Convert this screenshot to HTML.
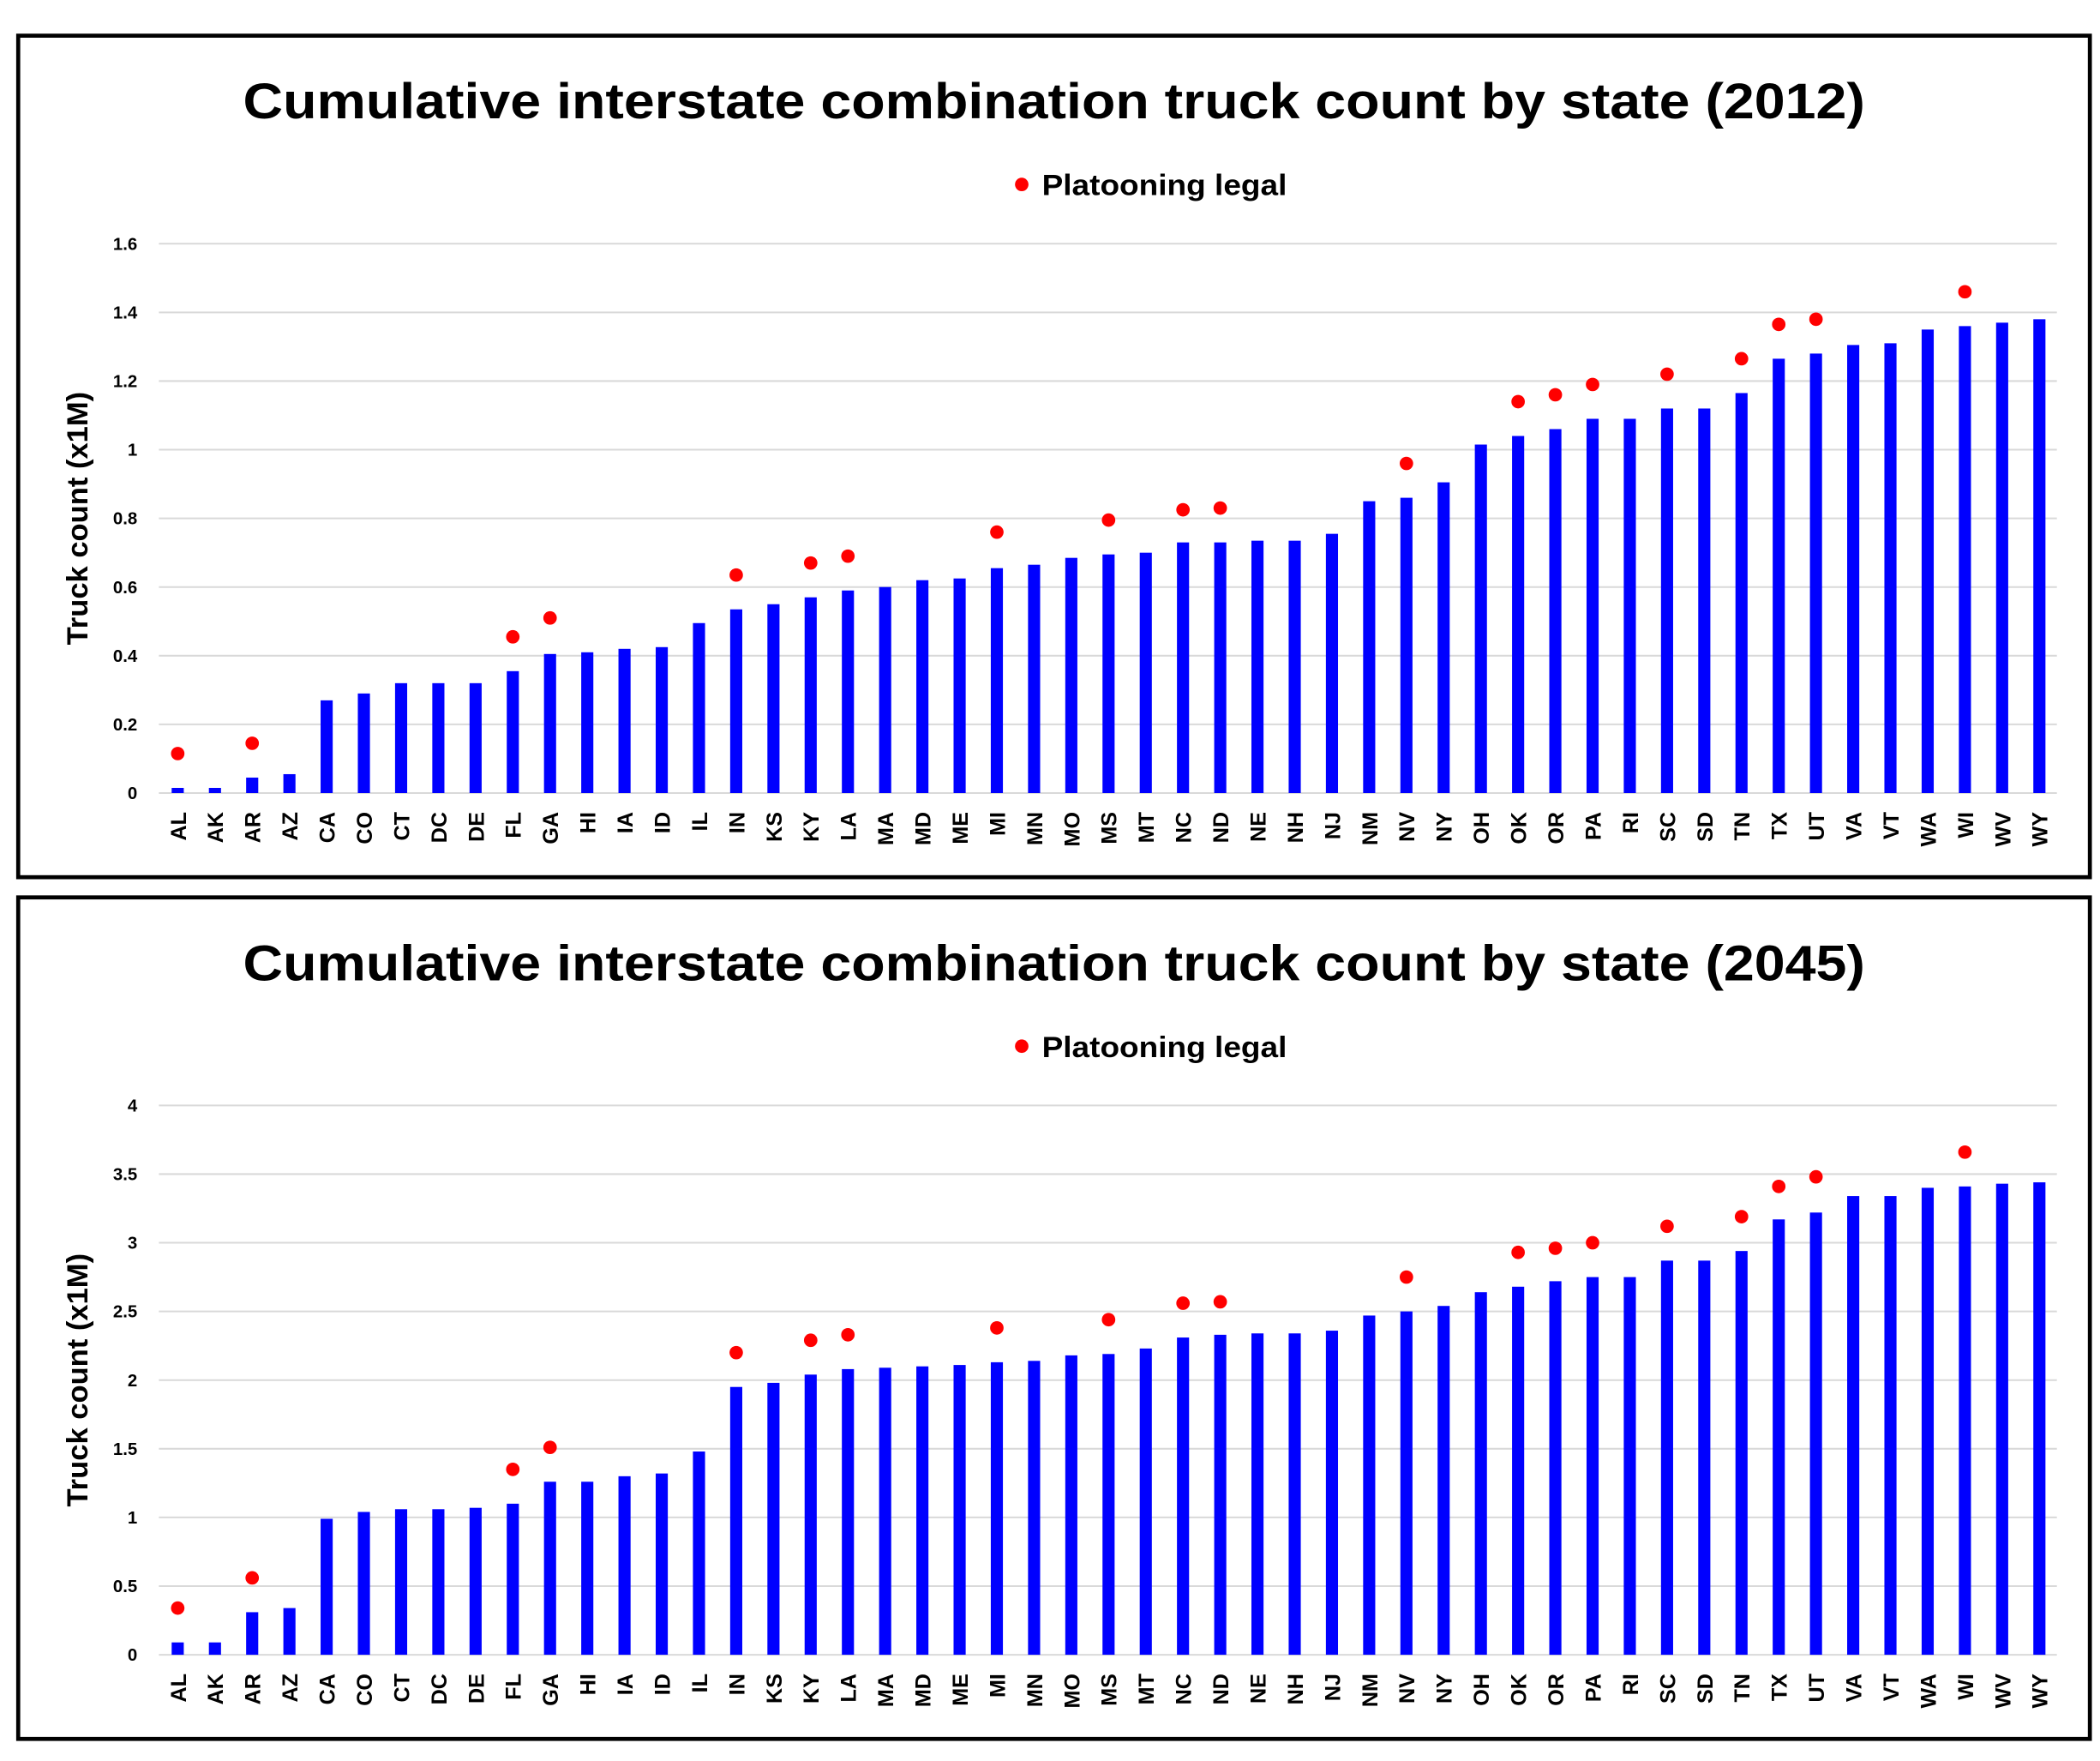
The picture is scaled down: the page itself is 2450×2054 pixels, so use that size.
<!DOCTYPE html>
<html><head><meta charset="utf-8"><style>
html,body{margin:0;padding:0;background:#fff;}
svg{display:block;}
text{font-family:"Liberation Sans",sans-serif;font-weight:bold;fill:#000;}
</style></head>
<body>
<svg id="root" width="2450" height="2054" viewBox="0 0 1560 1307.9" xmlns="http://www.w3.org/2000/svg"></svg>
<script>
const states = ["AL","AK","AR","AZ","CA","CO","CT","DC","DE","FL","GA","HI","IA","ID","IL","IN","KS","KY","LA","MA","MD","ME","MI","MN","MO","MS","MT","NC","ND","NE","NH","NJ","NM","NV","NY","OH","OK","OR","PA","RI","SC","SD","TN","TX","UT","VA","VT","WA","WI","WV","WY"];
const values2012 = [0.015,0.015,0.045,0.055,0.27,0.29,0.32,0.32,0.32,0.355,0.405,0.41,0.42,0.425,0.495,0.535,0.55,0.57,0.59,0.60,0.62,0.625,0.655,0.665,0.685,0.695,0.70,0.73,0.73,0.735,0.735,0.755,0.85,0.86,0.905,1.015,1.04,1.06,1.09,1.09,1.12,1.12,1.165,1.265,1.28,1.305,1.31,1.35,1.36,1.37,1.38];
const legal2012 = {AL:0.115,AR:0.145,FL:0.455,GA:0.51,IN:0.635,KY:0.67,LA:0.69,MI:0.76,MS:0.795,NC:0.825,ND:0.83,NV:0.96,OK:1.14,OR:1.16,PA:1.19,SC:1.22,TN:1.265,TX:1.365,UT:1.38,WI:1.46};
const ticks2012 = ["0","0.2","0.4","0.6","0.8","1","1.2","1.4","1.6"];
const values2045 = [0.09,0.09,0.31,0.34,0.99,1.04,1.06,1.06,1.07,1.10,1.26,1.26,1.30,1.32,1.48,1.95,1.98,2.04,2.08,2.09,2.10,2.11,2.13,2.14,2.18,2.19,2.23,2.31,2.33,2.34,2.34,2.36,2.47,2.50,2.54,2.64,2.68,2.72,2.75,2.75,2.87,2.87,2.94,3.17,3.22,3.34,3.34,3.40,3.41,3.43,3.44];
const legal2045 = {AL:0.34,AR:0.56,FL:1.35,GA:1.51,IN:2.20,KY:2.29,LA:2.33,MI:2.38,MS:2.44,NC:2.56,ND:2.57,NV:2.75,OK:2.93,OR:2.96,PA:3.00,SC:3.12,TN:3.19,TX:3.41,UT:3.48,WI:3.66};
const ticks2045 = ["0","0.5","1","1.5","2","2.5","3","3.5","4"];

const NS="http://www.w3.org/2000/svg";
const root=document.getElementById('root');
function mk(tag,attrs,parent){const e=document.createElementNS(NS,tag);for(const k in attrs)e.setAttribute(k,attrs[k]);parent.appendChild(e);return e;}

function panel(off, year, vals, legal, ticks, ymax, id){
  const g=mk('g',{},root);
  
  
  const border=mk('rect',{x:13.5,y:26.5+off,width:1539,height:625,fill:'#fff',stroke:'#000','stroke-width':3},g);
  
  
  const t=mk('text',{x:783,y:88+off,'text-anchor':'middle','font-size':37,textLength:1205,lengthAdjust:'spacingAndGlyphs'},g);
  t.textContent='Cumulative interstate combination truck count by state ('+year+')';
  
  
  const lg=mk('g',{},g);
  
  
  mk('circle',{cx:759,cy:137+off,r:5,fill:'#f00'},lg);
  const lt=mk('text',{x:774,y:145+off,'font-size':22,textLength:182,lengthAdjust:'spacingAndGlyphs'},lg);
  lt.textContent='Platooning legal';
  const y0=589+off, y1=181+off, x0=118, x1=1528;
  const ys=v=>y0-(v/ymax)*(y0-y1);
  const xs=i=>132+i*(1515-132)/(states.length-1);
  ticks.forEach(tk=>{
    const v=parseFloat(tk);
    const gl=mk('line',{x1:x0,x2:x1,y1:ys(v),y2:ys(v),stroke:'#d9d9d9','stroke-width':1.3},g);
    
    
    const tl=mk('text',{x:102,y:ys(v)+4.5,'text-anchor':'end','font-size':13},g);
    tl.textContent=tk;
    
    
  });
  const yt=mk('text',{x:0,y:0,'text-anchor':'middle','font-size':22,transform:'translate(65,'+(385+off)+') rotate(-90)'},g);
  yt.textContent='Truck count (x1M)';
  
  
  states.forEach((s,i)=>{
    const v=vals[i];
    const b=mk('rect',{x:xs(i)-4.5,y:ys(v),width:9,height:y0-ys(v),fill:'#0000ff'},g);
    
    
    if(legal[s]!==undefined){
      const d=mk('circle',{cx:xs(i),cy:ys(legal[s]),r:5,fill:'#f00'},g);
      
      
    }
    const xl=mk('text',{x:0,y:0,'text-anchor':'end','font-size':16,transform:'translate('+(xs(i)+6)+','+(603+off)+') rotate(-90)'},g);
    xl.textContent=s;
    
    
  });
}
panel(0,'2012',values2012,legal2012,ticks2012,1.6);
panel(640,'2045',values2045,legal2045,ticks2045,4);
</script>
</body></html>
